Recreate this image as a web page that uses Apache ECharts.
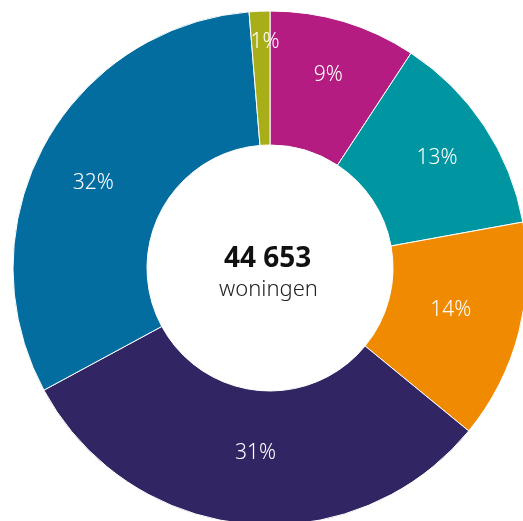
<!DOCTYPE html>
<html>
<head>
<meta charset="utf-8">
<style>
  html, body { margin: 0; padding: 0; background: #fff; }
  #chart { width: 523px; height: 521px; }
</style>
<script src="https://cdn.jsdelivr.net/npm/echarts@6/dist/echarts.min.js"></script>
</head>
<body>
<div id="chart"></div>
<script>
// share of woningen per slice (clockwise from 12 o'clock)
var sliceNames = ['a', 'b', 'c', 'd', 'e', 'f'];
var sliceValues = [9.25, 12.9, 13.8, 31.2, 31.6, 1.3];
var sliceLabels = ['9%', '13%', '14%', '31%', '32%', '1%'];
var sliceColors = ['#b41c81', '#0096a1', '#f08a00', '#312563', '#046da0', '#a8ae18'];
var labelNudge = [[3, -8], [6, -3], [-6, -6], [4, -7], [-7, 7], [3, -33]];
var totalText = '44 653';
var unitText = 'woningen';

var myChart = echarts.init(document.getElementById('chart'));

var data = sliceValues.map(function (v, i) {
  return {
    name: sliceNames[i],
    value: v,
    label: { formatter: sliceLabels[i], offset: labelNudge[i] },
    itemStyle: { color: sliceColors[i] }
  };
});

var option = {
  animation: false,
  graphic: [
    {
      type: 'text',
      left: 224,
      top: 245,
      style: {
        text: totalText,
        font: 'bold 28px "Noto Sans", sans-serif',
        fill: '#111'
      }
    },
    {
      type: 'text',
      left: 219,
      top: 279,
      style: {
        text: unitText,
        font: '300 22px "Noto Sans", sans-serif',
        fill: '#222'
      }
    }
  ],
  series: [
    {
      type: 'pie',
      center: [270, 268],
      radius: [123, 257],
      startAngle: 90,
      clockwise: true,
      avoidLabelOverlap: false,
      itemStyle: {
        borderColor: '#fff',
        borderWidth: 1
      },
      label: {
        show: true,
        position: 'inside',
        color: '#fff',
        fontSize: 21,
        fontWeight: 300,
        fontFamily: '"Noto Sans", sans-serif'
      },
      labelLine: { show: false },
      emphasis: { disabled: true },
      data: data
    }
  ]
};

myChart.setOption(option);
</script>
</body>
</html>
